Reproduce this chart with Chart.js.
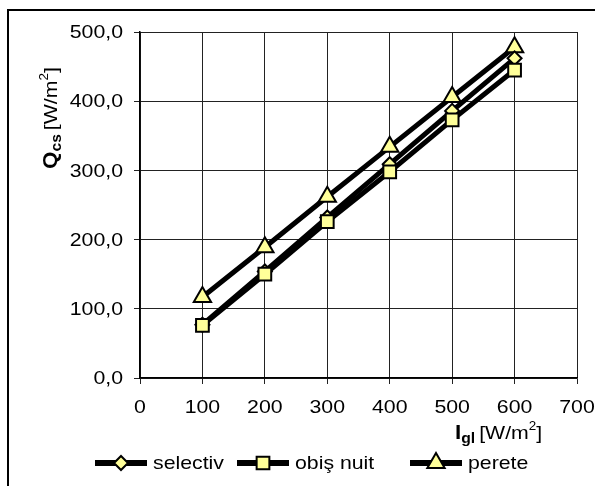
<!DOCTYPE html>
<html>
<head>
<meta charset="utf-8">
<script src="https://cdn.jsdelivr.net/npm/chart.js@4"></script>
<style>
  html, body { margin: 0; padding: 0; background: #fff; }
  #wrap { position: relative; width: 595px; height: 486px; }
  #frame { position: absolute; left: 7px; top: 9px; right: -2px; bottom: -2px; border-top: 2px solid #000; border-left: 2px solid #000; }
  canvas { position: absolute; left: 0; top: 0; }
</style>
</head>
<body>
<div id="wrap">
  <div id="frame"></div>
  <canvas id="grafico" width="595" height="486"></canvas>
</div>
<script>
// Datos
const radiatie = [100, 200, 300, 400, 500, 600];
const selectiv = [77, 154, 232, 309, 386, 462];
const obisnuit = [76, 150, 226, 298, 373, 445];
const perete = [117, 189, 262, 334, 406, 478];
const numeSerii = ['selectiv', 'obiş nuit', 'perete'];
const formeMarcaj = ['rectRot', 'rect', 'triangle'];
const razeMarcaj = [7, 9, 10];
const razeLegenda = [7, 9, 10];
const ordine = [1, 0, 2]; // patratele peste romburi, ca in original

const FONT = '"Liberation Sans", Arial, sans-serif';
const galben = '#ffff99';
const INTINDERE = 1.12; // textul din original e putin latit pe orizontala

function puncte(valori) {
    return radiatie.map((x, i) => ({ x: x, y: valori[i] }));
}

function serie(i, valori) {
    return {
        label: numeSerii[i],
        data: puncte(valori),
        order: ordine[i],
        borderColor: '#000',
        borderWidth: 5,
        backgroundColor: galben,
        pointStyle: formeMarcaj[i],
        pointRadius: razeMarcaj[i],
        pointBackgroundColor: galben,
        pointBorderColor: '#000',
        pointBorderWidth: 2,
        tension: 0,
        fill: false
    };
}

// scrie text latit; align: 'left' | 'center' | 'right'
function textLatit(ctx, text, x, y, font, align) {
    ctx.save();
    ctx.font = font;
    const w = ctx.measureText(text).width * INTINDERE;
    let x0 = x;
    if (align === 'center') x0 = x - w / 2;
    if (align === 'right') x0 = x - w;
    ctx.translate(x0, y);
    ctx.scale(INTINDERE, 1);
    ctx.textAlign = 'left';
    ctx.fillText(text, 0, 0);
    ctx.restore();
    return w;
}

// bucati: [text, font, deplasare verticala, spatiu dupa]
function titluCuIndici(ctx, bucati, x, y) {
    bucati.forEach(([t, f, dy, spatiu]) => {
        x += textLatit(ctx, t, x, y + dy, f, 'left') + (spatiu || 0);
    });
}

const titluriSiLegenda = {
    id: 'titluriSiLegenda',
    afterDraw(chart) {
        const ctx = chart.ctx;
        const sx = chart.scales.x;
        const sy = chart.scales.y;
        ctx.save();
        ctx.fillStyle = '#000';

        // etichete axe
        ctx.textBaseline = 'middle';
        sy.ticks.forEach(t => {
            const y = sy.getPixelForValue(t.value);
            textLatit(ctx, t.value.toFixed(1).replace('.', ','), sx.left - 17, y + 1, '19px ' + FONT, 'right');
        });
        ctx.textBaseline = 'top';
        sx.ticks.forEach(t => {
            const x = sx.getPixelForValue(t.value);
            textLatit(ctx, String(t.value), x, sy.bottom + 20, '19px ' + FONT, 'center');
        });

        // titlu axa Y (rotit)
        ctx.textBaseline = 'alphabetic';
        ctx.save();
        ctx.translate(57, 169);
        ctx.rotate(-Math.PI / 2);
        titluCuIndici(ctx, [
            ['Q', 'bold 20px ' + FONT, 0],
            ['cs', 'bold 14px ' + FONT, 4, 4],
            ['[W/m', '19px ' + FONT, 0],
            ['2', '12px ' + FONT, -9],
            [']', '19px ' + FONT, 0]
        ], 0, 0);
        ctx.restore();

        // titlu axa X
        titluCuIndici(ctx, [
            ['I', 'bold 20px ' + FONT, 0],
            ['gl', 'bold 14px ' + FONT, 4, 4],
            ['[W/m', '19px ' + FONT, 0],
            ['2', '12px ' + FONT, -9],
            [']', '19px ' + FONT, 0]
        ], 455, 439);

        // legenda
        const pozitii = [95, 237, 410];
        const ly = 463;
        chart.data.datasets.forEach((ds, i) => {
            const x0 = pozitii[i];
            ctx.strokeStyle = '#000';
            ctx.lineWidth = 6;
            ctx.beginPath();
            ctx.moveTo(x0, ly);
            ctx.lineTo(x0 + 52, ly);
            ctx.stroke();
            ctx.fillStyle = galben;
            ctx.lineWidth = 2;
            Chart.helpers.drawPoint(ctx, {
                pointStyle: ds.pointStyle,
                radius: razeLegenda[i],
                rotation: 0,
                borderWidth: 2
            }, x0 + 26, ly);
            ctx.fillStyle = '#000';
            ctx.textBaseline = 'middle';
            textLatit(ctx, ds.label, x0 + 58, ly + 1, '19px ' + FONT, 'left');
        });
        ctx.restore();
    }
};

new Chart(document.getElementById('grafico').getContext('2d'), {
    type: 'line',
    data: {
        datasets: [
            serie(0, selectiv),
            serie(1, obisnuit),
            serie(2, perete)
        ]
    },
    options: {
        responsive: false,
        animation: false,
        layout: { padding: { left: 0, top: 32, right: 18, bottom: 0 } },
        plugins: {
            legend: { display: false },
            tooltip: { enabled: false }
        },
        scales: {
            x: {
                type: 'linear',
                min: 0,
                max: 700,
                ticks: { stepSize: 100, display: false },
                grid: { color: '#222', lineWidth: 1, tickLength: 6 },
                border: { color: '#000', width: 1.5 },
                afterFit: s => { s.height = 108; }
            },
            y: {
                min: 0,
                max: 500,
                ticks: { stepSize: 100, display: false },
                grid: { color: '#222', lineWidth: 1, tickLength: 6 },
                border: { color: '#000', width: 1.5 },
                afterFit: s => { s.width = 140; }
            }
        }
    },
    plugins: [titluriSiLegenda]
});
</script>
</body>
</html>
